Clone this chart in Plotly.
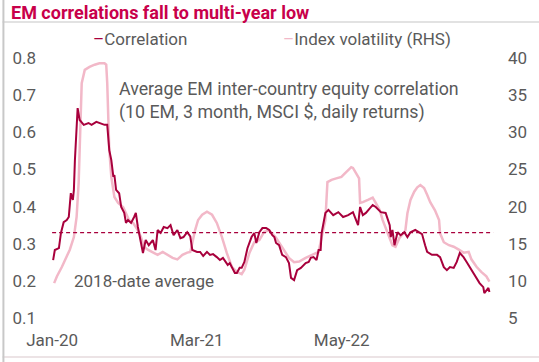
import plotly.graph_objects as go

# ---------------- data ----------------
corr_dates = [
    "2020-01-04", "2020-01-09", "2020-01-21", "2020-01-27", "2020-02-04", "2020-02-13", "2020-02-19",
    "2020-02-22", "2020-02-25", "2020-03-02", "2020-03-05", "2020-03-08", "2020-03-13", "2020-03-16",
    "2020-03-22", "2020-04-03", "2020-04-17", "2020-04-26", "2020-05-10", "2020-05-19", "2020-06-03",
    "2020-06-11", "2020-06-14", "2020-06-17", "2020-06-23", "2020-06-29", "2020-07-02", "2020-07-07",
    "2020-07-16", "2020-07-22", "2020-07-31", "2020-08-05", "2020-08-11", "2020-08-20", "2020-08-29",
    "2020-09-03", "2020-09-09", "2020-09-12", "2020-09-18", "2020-09-24", "2020-10-02", "2020-10-11",
    "2020-10-23", "2020-10-31", "2020-11-06", "2020-11-15", "2020-11-24", "2020-12-05", "2020-12-14",
    "2020-12-23", "2021-01-03", "2021-01-12", "2021-01-21", "2021-02-01", "2021-02-10", "2021-02-16",
    "2021-03-02", "2021-03-11", "2021-03-20", "2021-03-31", "2021-04-09", "2021-04-18", "2021-04-29",
    "2021-05-08", "2021-05-17", "2021-05-31", "2021-06-06", "2021-06-15", "2021-06-21", "2021-06-27",
    "2021-07-05", "2021-07-11", "2021-07-19", "2021-07-28", "2021-08-03", "2021-08-09", "2021-08-17",
    "2021-08-23", "2021-09-01", "2021-09-10", "2021-09-21", "2021-09-30", "2021-10-09", "2021-10-15",
    "2021-10-20", "2021-10-29", "2021-11-07", "2021-11-18", "2021-11-27", "2021-12-03", "2021-12-12",
    "2021-12-21", "2022-01-01", "2022-01-15", "2022-01-24", "2022-01-30", "2022-02-07", "2022-02-16",
    "2022-02-22", "2022-02-28", "2022-03-03", "2022-03-09", "2022-03-14", "2022-03-23", "2022-04-06",
    "2022-04-21", "2022-05-05", "2022-05-20", "2022-06-03", "2022-06-18", "2022-06-24", "2022-07-02",
    "2022-07-11", "2022-07-23", "2022-07-31", "2022-08-09", "2022-08-24", "2022-09-07", "2022-09-19",
    "2022-09-22", "2022-09-27", "2022-10-03", "2022-10-12", "2022-10-21", "2022-11-01", "2022-11-10",
    "2022-11-19", "2022-12-03", "2022-12-15", "2022-12-23", "2023-01-01", "2023-01-07", "2023-01-21",
    "2023-02-05", "2023-02-14", "2023-02-25", "2023-03-06", "2023-03-15", "2023-03-26", "2023-04-04",
    "2023-04-13", "2023-04-24", "2023-05-03", "2023-05-12", "2023-05-23", "2023-06-01", "2023-06-10",
    "2023-06-21", "2023-06-24", "2023-07-06", "2023-07-09",
]
corr_values = [
    0.256, 0.283, 0.288, 0.329, 0.358, 0.364, 0.372,
    0.404, 0.436, 0.418, 0.445, 0.525, 0.598, 0.665,
    0.633, 0.620, 0.625, 0.620, 0.628, 0.625, 0.620,
    0.620, 0.587, 0.552, 0.525, 0.480, 0.485, 0.445,
    0.436, 0.399, 0.383, 0.356, 0.364, 0.356, 0.372,
    0.383, 0.345, 0.329, 0.302, 0.275, 0.310, 0.296,
    0.310, 0.283, 0.337, 0.329, 0.345, 0.342, 0.350,
    0.323, 0.337, 0.315, 0.318, 0.331, 0.320, 0.283,
    0.278, 0.278, 0.267, 0.278, 0.270, 0.272, 0.264,
    0.256, 0.262, 0.243, 0.248, 0.229, 0.221, 0.221,
    0.235, 0.235, 0.251, 0.288, 0.302, 0.318, 0.329,
    0.302, 0.331, 0.342, 0.342, 0.337, 0.323, 0.318,
    0.302, 0.296, 0.270, 0.264, 0.248, 0.208, 0.202,
    0.229, 0.235, 0.248, 0.251, 0.262, 0.264, 0.256,
    0.283, 0.283, 0.329, 0.358, 0.383, 0.391, 0.377,
    0.385, 0.372, 0.377, 0.385, 0.350, 0.399, 0.377,
    0.383, 0.396, 0.404, 0.399, 0.385, 0.383, 0.350,
    0.318, 0.337, 0.296, 0.331, 0.323, 0.331, 0.318,
    0.331, 0.337, 0.329, 0.326, 0.296, 0.278, 0.270,
    0.270, 0.264, 0.237, 0.229, 0.237, 0.235, 0.251,
    0.275, 0.264, 0.251, 0.237, 0.221, 0.208, 0.194,
    0.183, 0.167, 0.181, 0.170,
]

vol_dates = [
    "2020-01-07", "2020-01-15", "2020-01-30", "2020-02-13", "2020-02-22", "2020-03-05", "2020-03-13",
    "2020-03-19", "2020-03-22", "2020-03-25", "2020-03-28", "2020-04-06", "2020-04-20", "2020-05-05",
    "2020-05-19", "2020-06-03", "2020-06-08", "2020-06-11", "2020-06-14", "2020-06-17", "2020-06-23",
    "2020-06-29", "2020-07-02", "2020-07-13", "2020-07-28", "2020-08-05", "2020-08-14", "2020-08-26",
    "2020-09-03", "2020-09-09", "2020-09-18", "2020-09-27", "2020-10-08", "2020-10-23", "2020-11-06",
    "2020-11-21", "2020-12-05", "2020-12-20", "2021-01-03", "2021-01-18", "2021-02-01", "2021-02-10",
    "2021-02-16", "2021-02-24", "2021-03-05", "2021-03-17", "2021-03-31", "2021-04-15", "2021-04-29",
    "2021-05-14", "2021-05-28", "2021-06-12", "2021-06-27", "2021-07-11", "2021-07-19", "2021-08-03",
    "2021-08-17", "2021-09-01", "2021-09-15", "2021-09-30", "2021-10-20", "2021-11-07", "2021-11-27",
    "2021-12-12", "2021-12-27", "2022-01-15", "2022-02-02", "2022-02-22", "2022-03-03", "2022-03-14",
    "2022-03-20", "2022-04-01", "2022-04-15", "2022-04-30", "2022-05-11", "2022-05-20", "2022-05-29",
    "2022-06-03", "2022-06-12", "2022-06-21", "2022-06-24", "2022-07-02", "2022-07-17", "2022-07-31",
    "2022-08-09", "2022-08-21", "2022-08-29", "2022-09-07", "2022-09-19", "2022-09-27", "2022-10-06",
    "2022-10-18", "2022-10-26", "2022-11-04", "2022-11-10", "2022-11-19", "2022-11-30", "2022-12-09",
    "2022-12-18", "2022-12-29", "2023-01-07", "2023-01-16", "2023-01-30", "2023-02-11", "2023-02-14",
    "2023-02-25", "2023-03-12", "2023-03-26", "2023-04-10", "2023-04-24", "2023-05-09", "2023-05-17",
    "2023-06-01", "2023-06-15", "2023-06-30", "2023-07-09",
]
vol_values = [
    9.7, 10.6, 11.9, 13.3, 14.2, 15.9, 18.6,
    23.2, 27.6, 32.1, 36.6, 38.4, 38.8, 39.1,
    39.3, 39.3, 39.1, 36.6, 32.1, 27.6, 24.0,
    22.2, 21.3, 20.5, 19.9, 19.1, 18.2, 17.8,
    17.2, 16.8, 15.9, 14.6, 14.2, 13.8, 13.5,
    13.9, 13.5, 13.1, 12.9, 13.5, 13.8, 13.9,
    15.1, 16.8, 18.2, 18.9, 19.3, 18.9, 17.8,
    15.9, 13.8, 11.9, 11.2, 10.9, 11.5, 13.8,
    15.2, 15.5, 16.6, 16.8, 15.8, 14.6, 13.1,
    12.5, 12.6, 13.1, 13.5, 13.9, 15.9, 18.2,
    23.3, 23.6, 23.8, 24.0, 24.5, 24.9, 25.3,
    25.2, 24.5, 23.8, 20.5, 20.6, 20.9, 21.2,
    20.5, 19.5, 18.2, 17.2, 15.9, 14.8, 14.6,
    15.8, 16.2, 16.8, 19.1, 20.9, 22.0, 22.6,
    22.9, 22.5, 21.6, 20.6, 19.5, 18.2, 16.4,
    15.2, 14.8, 14.6, 14.2, 13.8, 13.9, 12.9,
    11.9, 11.2, 10.6, 9.9,
]

avg_value = 0.33
avg_dates = ["2020-01-01", "2023-07-20"]

x_tickvals = ["2020-01-01", "2021-03-01", "2022-05-01"]
x_ticktext = ["Jan-20", "Mar-21", "May-22"]
left_ticks = [0.1, 0.2, 0.3, 0.4, 0.5, 0.6, 0.7, 0.8]
right_ticks = [5, 10, 15, 20, 25, 30, 35, 40]

title_text = "EM correlations fall to multi-year low"
note_text = "Average EM inter-country equity correlation<br>(10 EM, 3 month, MSCI $, daily returns)"
avg_label = "2018-date average"

# ---------------- styling ----------------
CRIMSON = "#a8003c"
PINK = "#f2b8c8"
TITLE_C = "#c8004a"
GREY = "#5a5a5a"
FONT = "Roboto"

fig = go.Figure()

fig.add_trace(go.Scatter(x=vol_dates, y=vol_values, mode="lines", yaxis="y",
                         line=dict(color=PINK, width=2.5), showlegend=False,
                         name="Index volatility (RHS)"))
fig.add_trace(go.Scatter(x=avg_dates, y=[avg_value, avg_value], mode="lines", yaxis="y2",
                         line=dict(color=CRIMSON, width=1.2, dash="4px,3px"), showlegend=False))
fig.add_trace(go.Scatter(x=corr_dates, y=corr_values, mode="lines", yaxis="y2",
                         line=dict(color=CRIMSON, width=2), showlegend=False,
                         name="Correlation"))

fig.update_layout(
    width=539, height=362,
    margin=dict(l=45, r=34, t=50, b=37),
    paper_bgcolor="white", plot_bgcolor="white",
    font=dict(family=FONT, size=17, color=GREY),
    xaxis=dict(type="date", range=["2019-12-17", "2023-08-12"],
               tickvals=x_tickvals, ticktext=x_ticktext,
               showgrid=False, zeroline=False, showline=False, ticks="",
               ticklabelstandoff=3, tickfont=dict(size=17, color=GREY)),
    yaxis=dict(range=[4.06, 41.08], side="right", tickvals=right_ticks,
               showgrid=False, zeroline=False, showline=False, ticks="",
               ticklabelstandoff=6, tickfont=dict(size=17, color=GREY)),
    yaxis2=dict(range=[0.0812, 0.8215], side="left", overlaying="y",
                tickvals=left_ticks, tickformat=".1f",
                showgrid=False, zeroline=False, showline=False, ticks="",
                ticklabelstandoff=10, tickfont=dict(size=17, color=GREY)),
)

# title
fig.add_annotation(xref="paper", yref="paper", x=-0.0848, y=1.138, xanchor="left", yanchor="middle",
                   text="<b>" + title_text + "</b>", showarrow=False,
                   font=dict(family=FONT, size=18, color=TITLE_C))
# legend
fig.add_annotation(xref="paper", yref="paper", x=0.098, y=1.04, xanchor="left", yanchor="middle",
                   text="<span style='color:%s'>–</span>Correlation" % CRIMSON, showarrow=False,
                   font=dict(family=FONT, size=17, color=GREY))
fig.add_annotation(xref="paper", yref="paper", x=0.515, y=1.04, xanchor="left", yanchor="middle",
                   text="<span style='color:%s'>–</span>Index volatility (RHS)" % PINK, showarrow=False,
                   font=dict(family=FONT, size=17, color=GREY))
# notes
fig.add_annotation(xref="paper", yref="paper", x=0.155, y=0.818, xanchor="left", yanchor="middle",
                   text=note_text, align="left", showarrow=False,
                   font=dict(family=FONT, size=17.8, color=GREY))
fig.add_annotation(xref="paper", yref="paper", x=0.054, y=0.16, xanchor="left", yanchor="middle",
                   text=avg_label, showarrow=False,
                   font=dict(family=FONT, size=17, color=GREY))

# frame lines
fig.add_shape(type="line", xref="paper", yref="paper", x0=-0.098, x1=1.174, y0=1.102, y1=1.102,
              line=dict(color="#d8d8d8", width=1.5))
fig.add_shape(type="line", xref="paper", yref="paper", x0=-0.098, x1=1.174, y0=-0.116, y1=-0.116,
              line=dict(color="#e6dadd", width=1.5))
fig.add_shape(type="line", xref="paper", yref="paper", x0=-0.096, x1=-0.096, y0=-0.15, y1=1.2,
              line=dict(color="#c8c8c8", width=2))

fig.write_html("out.html", config={"displayModeBar": False},
               post_script="document.body.style.margin='0';document.body.style.overflow='hidden';")
